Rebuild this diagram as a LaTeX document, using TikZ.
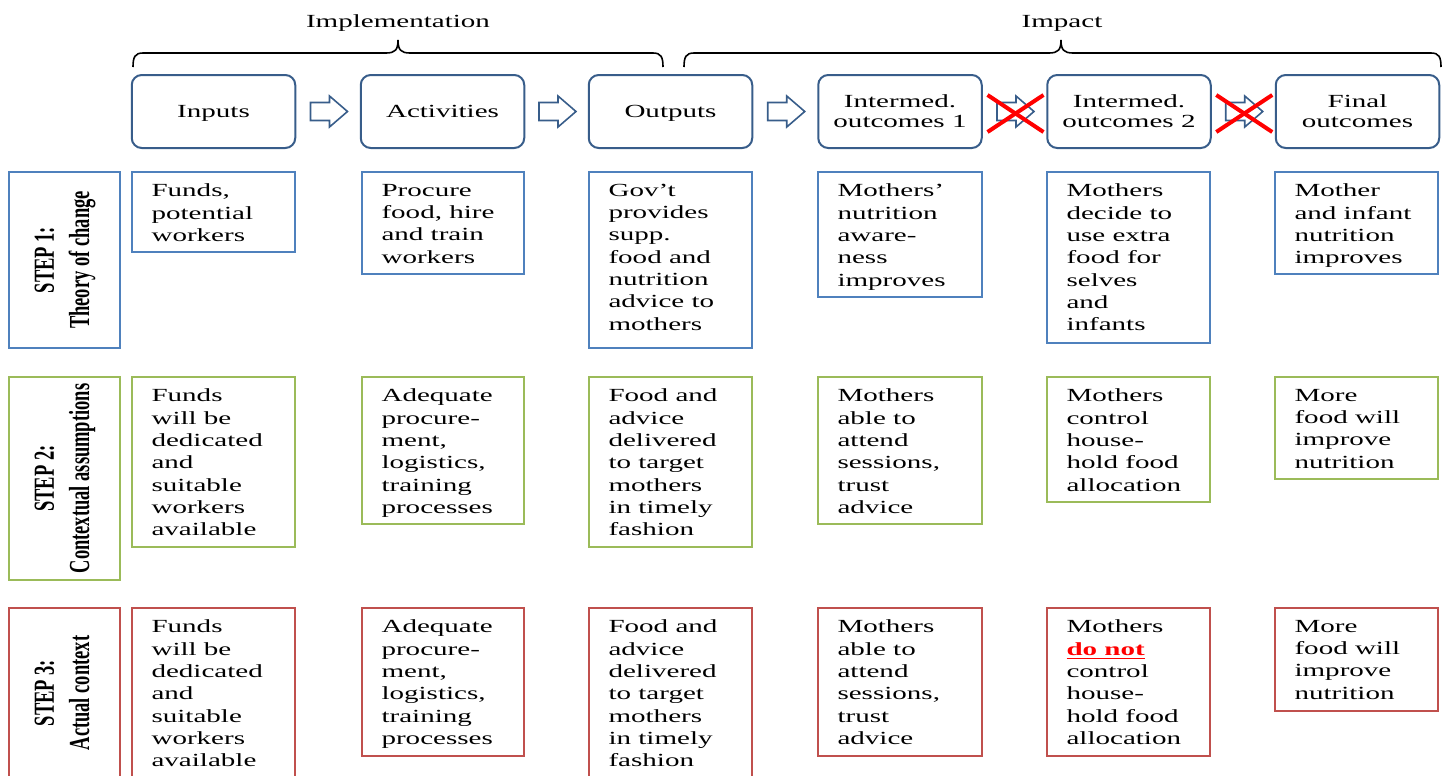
\documentclass[tikz,border=0pt]{standalone}
\usepackage{fontspec}
\usepackage{graphicx}
\setmainfont{Liberation Serif}[FakeStretch=1.57]
\newfontfamily\labelfont{Liberation Serif}
\usetikzlibrary{calc,fit}
\definecolor{navy}{RGB}{56,93,138}
\definecolor{rowblue}{RGB}{79,129,189}
\definecolor{rowgreen}{RGB}{155,187,89}
\definecolor{rowred}{RGB}{192,80,77}
\definecolor{xred}{RGB}{255,0,0}
\newcommand\cellbox[7]{%
  \node[cell=#2, fit={(#3,#4) (#5,#6)}] (#1) {};
  \node[txt] (#1t) at ($(#1.north west)+(20,12.5)$) {#7};
}
\newcommand\stepbox[7]{%
  \node[lbl=#2, fit={(#3,#4) (#5,#6)}] (#1) {};
  \node[steptxt] (#1t) at (#1.center) {\rotatebox{90}{\scalebox{1}[1.57]{\begin{tabular}{@{}c@{}}#7\end{tabular}}}};
}
\newcommand\blockarrow[1]{%
  \draw[blockarr] (#1) ++(-18.5,-9) -- ++(19,0) -- ++(0,-6.5) -- ++(18,15.5) -- ++(-18,15.5) -- ++(0,-6.5) -- ++(-19,0) -- cycle;
}
% custom brace: #1 left end, #2 tip, #3 right end (named coordinates)
\newcommand\topbrace[3]{%
  \draw[bracestyle] (#1) .. controls ($(#1)+(0,-10)$) and ($(#1)+(2,-14)$) .. ($(#1)+(10,-14)$)
    -- ($(#2)+(-12,13)$) .. controls ($(#2)+(-3,13)$) and ($(#2)+(0,10)$) .. (#2)
    .. controls ($(#2)+(0,10)$) and ($(#2)+(3,13)$) .. ($(#2)+(12,13)$)
    -- ($(#3)+(-10,-14)$) .. controls ($(#3)+(-2,-14)$) and ($(#3)+(0,-10)$) .. (#3);
}
\begin{document}
\begin{tikzpicture}[x=0.5pt,y=-0.5pt,
  hdr/.style={draw=navy, line width=1pt, rounded corners=5pt, minimum width=81.75pt, minimum height=36.5pt, align=center, inner sep=0pt, font=\fontsize{9.25}{10}\selectfont},
  cell/.style={draw=#1, line width=0.85pt, inner sep=0pt},
  lbl/.style={draw=#1, line width=1.2pt, inner sep=0pt},
  txt/.style={anchor=north west, inner sep=0pt, align=left, font=\fontsize{9.25}{11.15}\selectfont},
  steptxt/.style={inner sep=0pt, font=\labelfont\bfseries\fontsize{9.25}{11.15}\selectfont},
  blockarr/.style={draw=navy, line width=0.8pt, fill=white, line join=miter},
  redx/.style={draw=xred, line width=2pt},
  bracestyle/.style={draw=black, line width=0.8pt},
  toptxt/.style={anchor=base, inner sep=0pt, font=\fontsize{9.25}{11}\selectfont}]
\useasboundingbox (0,0) rectangle (1448,776);
\clip (0,0) rectangle (1448,776);

% top labels and braces
\node[toptxt] (impl) at (398,27.5) {Implementation};
\node[toptxt] (impact) at (1062,27.5) {Impact};
\coordinate (b1l) at (133,67);
\coordinate (b1t) at (398,40);
\coordinate (b1r) at (663,67);
\coordinate (b2l) at (684,67);
\coordinate (b2t) at (1061,40);
\coordinate (b2r) at (1441,67);
\topbrace{b1l}{b1t}{b1r}
\topbrace{b2l}{b2t}{b2r}

% header boxes
\node[hdr, text depth=0pt] (h1) at (213.5,111.5) {Inputs};
\node[hdr] (h2) at (442.5,111.5) {Activities};
\node[hdr, text depth=0pt] (h3) at (670.5,111.5) {Outputs};
\node[hdr] (h4) at (900,111.5) {Intermed.\\outcomes 1};
\node[hdr] (h5) at (1129,111.5) {Intermed.\\outcomes 2};
\node[hdr] (h6) at (1357.5,111.5) {Final\\outcomes};

% block arrows
\coordinate (a1) at ($(h1.east)!0.5!(h2.west)+(1,0)$);
\coordinate (a2) at ($(h2.east)!0.5!(h3.west)+(1,0)$);
\coordinate (a3) at ($(h3.east)!0.5!(h4.west)+(1,0)$);
\coordinate (a4) at ($(h4.east)!0.5!(h5.west)+(1,0)$);
\coordinate (a5) at ($(h5.east)!0.5!(h6.west)+(1,0)$);
\blockarrow{a1}
\blockarrow{a2}
\blockarrow{a3}
\blockarrow{a4}
\blockarrow{a5}
\draw[redx] ($(a4)+(-28,-16.5)$) -- ($(a4)+(28,20.5)$);
\draw[redx] ($(a4)+(-28,20.5)$) -- ($(a4)+(28,-16.5)$);
\draw[redx] ($(a5)+(-28,-16.5)$) -- ($(a5)+(28,20.5)$);
\draw[redx] ($(a5)+(-28,20.5)$) -- ($(a5)+(28,-16.5)$);

% STEP 1 row
\stepbox{s1}{rowblue}{9}{172}{120}{348}{STEP 1:\\Theory of change}
\cellbox{r1c1}{rowblue}{132}{172}{295}{252}{Funds,\\potential\\workers}
\cellbox{r1c2}{rowblue}{362}{172}{524}{274}{Procure\\food, hire\\and train\\workers}
\cellbox{r1c3}{rowblue}{589}{172}{752}{348}{Gov’t\\provides\\supp.\\food and\\nutrition\\advice to\\mothers}
\cellbox{r1c4}{rowblue}{818}{172}{982}{297}{Mothers’\\nutrition\\aware-\\ness\\improves}
\cellbox{r1c5}{rowblue}{1047}{172}{1210}{343}{Mothers\\decide to\\use extra\\food for\\selves\\and\\infants}
\cellbox{r1c6}{rowblue}{1275}{172}{1438}{274}{Mother\\and infant\\nutrition\\improves}

% STEP 2 row
\stepbox{s2}{rowgreen}{9}{377}{120}{580}{STEP 2:\\Contextual assumptions}
\cellbox{r2c1}{rowgreen}{132}{377}{295}{547}{Funds\\will be\\dedicated\\and\\suitable\\workers\\available}
\cellbox{r2c2}{rowgreen}{362}{377}{524}{524}{Adequate\\procure-\\ment,\\logistics,\\training\\processes}
\cellbox{r2c3}{rowgreen}{589}{377}{752}{547}{Food and\\advice\\delivered\\to target\\mothers\\in timely\\fashion}
\cellbox{r2c4}{rowgreen}{818}{377}{982}{524}{Mothers\\able to\\attend\\sessions,\\trust\\advice}
\cellbox{r2c5}{rowgreen}{1047}{377}{1210}{502}{Mothers\\control\\house-\\hold food\\allocation}
\cellbox{r2c6}{rowgreen}{1275}{377}{1438}{479}{More\\food will\\improve\\nutrition}

% STEP 3 row
\stepbox{s3}{rowred}{9}{608}{120}{778}{STEP 3:\\Actual context}
\cellbox{r3c1}{rowred}{132}{608}{295}{790}{Funds\\will be\\dedicated\\and\\suitable\\workers\\available}
\cellbox{r3c2}{rowred}{362}{608}{524}{756}{Adequate\\procure-\\ment,\\logistics,\\training\\processes}
\cellbox{r3c3}{rowred}{589}{608}{752}{790}{Food and\\advice\\delivered\\to target\\mothers\\in timely\\fashion}
\cellbox{r3c4}{rowred}{818}{608}{982}{756}{Mothers\\able to\\attend\\sessions,\\trust\\advice}
\cellbox{r3c5}{rowred}{1047}{608}{1210}{756}{Mothers\\{\color{xred}\bfseries\underline{do not}}\\control\\house-\\hold food\\allocation}
\cellbox{r3c6}{rowred}{1275}{608}{1438}{711}{More\\food will\\improve\\nutrition}
\end{tikzpicture}
\end{document}
